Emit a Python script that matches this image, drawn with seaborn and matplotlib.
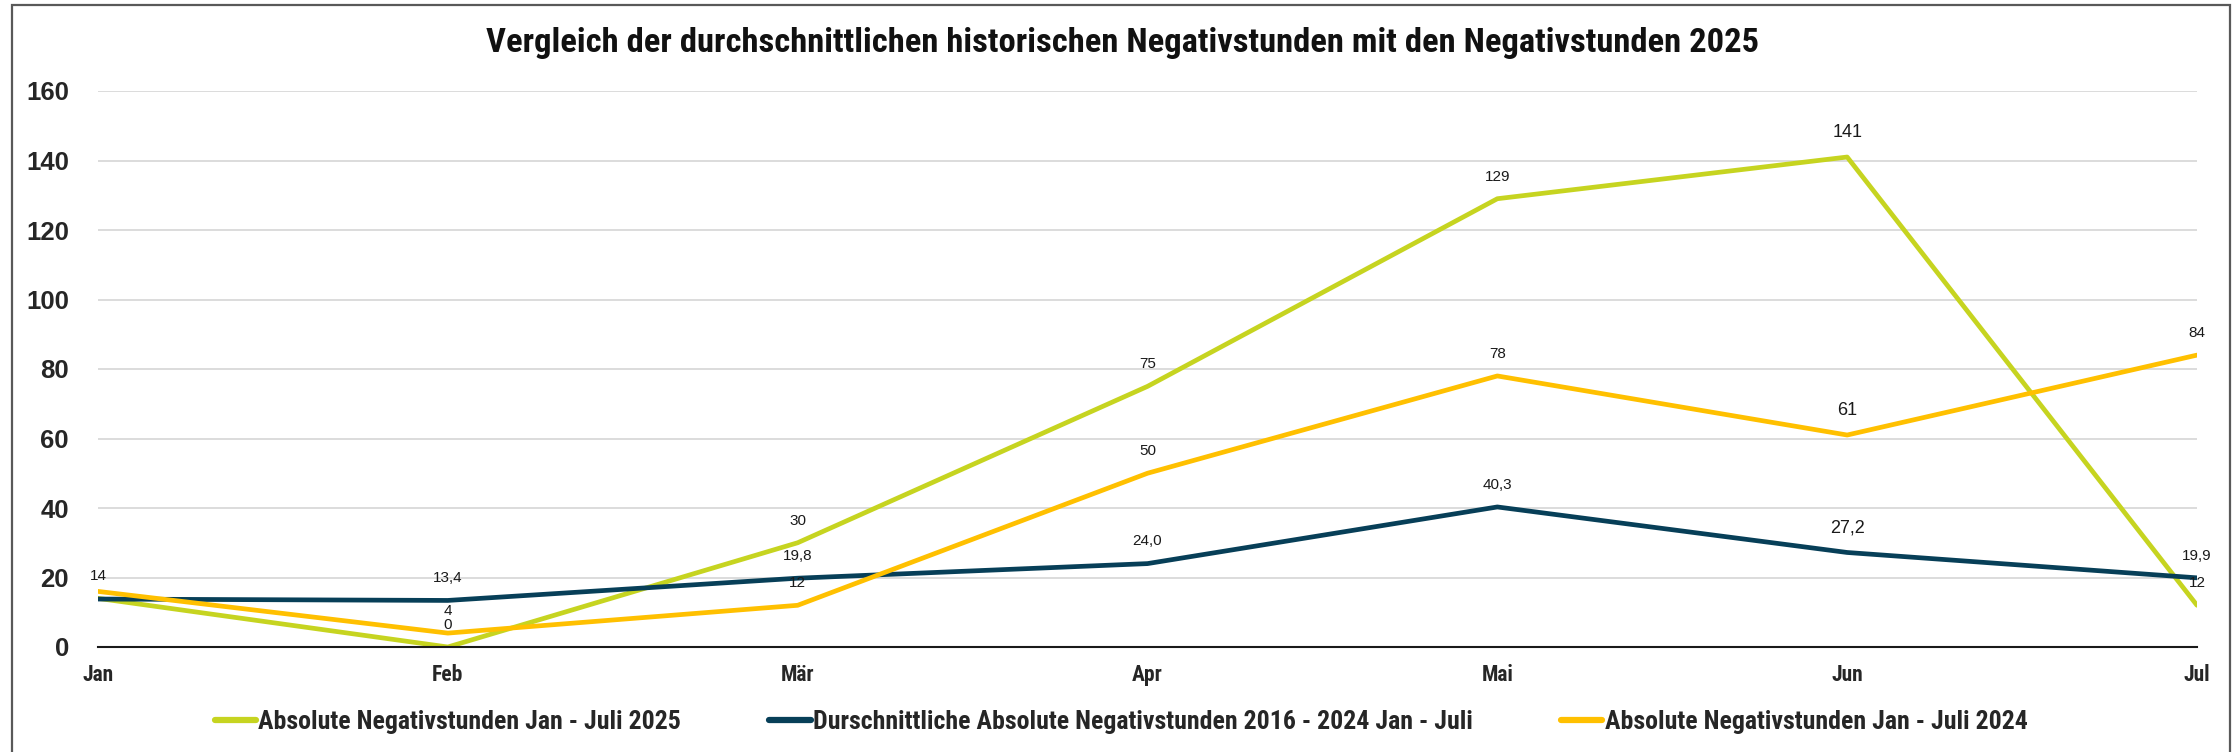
import matplotlib
matplotlib.use("Agg")
import matplotlib.pyplot as plt
import seaborn as sns
import pandas as pd
from matplotlib import font_manager
from matplotlib.patches import Rectangle
from matplotlib.lines import Line2D

# --- data -------------------------------------------------------------
months = ["Jan", "Feb", "Mär", "Apr", "Mai", "Jun", "Jul"]
series_names = [
    "Absolute Negativstunden Jan - Juli 2025",
    "Durschnittliche Absolute Negativstunden 2016 - 2024 Jan - Juli",
    "Absolute Negativstunden Jan - Juli 2024",
]
values_2025 = [14, 0, 30, 75, 129, 141, 12]
values_avg = [13.8, 13.4, 19.8, 24.0, 40.3, 27.2, 19.9]
values_2024 = [16, 4, 12, 50, 78, 61, 84]
y_ticks = [0, 20, 40, 60, 80, 100, 120, 140, 160]
title = "Vergleich der durchschnittlichen historischen Negativstunden mit den Negativstunden 2025"

# which points carry a value label, and how many decimals they show
show_2025 = [True] * 7
show_avg = [False, True, True, True, True, True, True]
show_2024 = [False, True, True, True, True, True, True]
decimals = [0, 1, 0]

# --- fonts ------------------------------------------------------------
installed = {f.name for f in font_manager.fontManager.ttflist}
def pick(*cands):
    for c in cands:
        if c in installed:
            return c
    return "DejaVu Sans"

narrow = pick("Liberation Sans Narrow", "Roboto Condensed", "DejaVu Sans Condensed", "Liberation Sans")
regular = pick("Liberation Sans", "Arimo", "DejaVu Sans")

sns.set_theme(style="white")
plt.rcParams["font.family"] = [regular, "DejaVu Sans"]

colors = ["#C6D420", "#073F58", "#FFC000"]

rows = []
for name, vals in zip(series_names, [values_2025, values_avg, values_2024]):
    for i, v in enumerate(vals):
        rows.append({"pos": i, "value": v, "series": name})
df = pd.DataFrame(rows)

W, H, DPI = 2239, 752, 100
fig = plt.figure(figsize=(W / DPI, H / DPI), dpi=DPI)
ax = fig.add_axes([98 / W, 1 - 647 / H, (2197 - 98) / W, (647 - 91) / H])

sns.lineplot(
    data=df, x="pos", y="value", hue="series", hue_order=series_names,
    palette=colors, linewidth=3.4, sort=False, legend=False, ax=ax,
    solid_capstyle="round", solid_joinstyle="round",
)

ax.set_xlim(0, len(months) - 1)
ax.set_ylim(0, 160)
ax.set_yticks(y_ticks)
ax.set_yticklabels([str(t) for t in y_ticks], fontsize=18.5, fontweight="bold",
                   family=[regular])
ax.set_xticks(range(len(months)))
ax.set_xticklabels(months, fontsize=15.5, fontweight="bold", family=[narrow])
ax.tick_params(axis="y", length=0, pad=21)
ax.tick_params(axis="x", length=0, pad=12)
ax.set_xlabel("")
ax.set_ylabel("")
ax.yaxis.grid(True, color="#D9D9D9", linewidth=1.3)
ax.xaxis.grid(False)
for s in ["left", "right", "top"]:
    ax.spines[s].set_visible(False)
ax.spines["bottom"].set_color("#1a1a1a")
ax.spines["bottom"].set_linewidth(1.5)
ax.spines["bottom"].set_zorder(5)

# value labels above each point
def fmt(v, d):
    return f"{v:.{d}f}".replace(".", ",")

for vals, shows, d in zip([values_2025, values_avg, values_2024],
                          [show_2025, show_avg, show_2024], decimals):
    for i, (v, s) in enumerate(zip(vals, shows)):
        if not s:
            continue
        big = months[i] == "Jun"
        ax.annotate(fmt(v, d), (i, v), xytext=(0, 17.5 if big else 16),
                    textcoords="offset points", ha="center", va="center",
                    fontsize=13 if big else 11, color="#1a1a1a",
                    family=[regular], annotation_clip=False, zorder=6)

fig.text(0.5015, 1 - 43 / H, title, ha="center", va="center",
         fontsize=24.8, fontweight="bold", family=[narrow], color="#111111")

handles = [Line2D([0], [0], color=c, lw=4.5, solid_capstyle="round") for c in colors]
fig.legend(handles, series_names, loc="center", bbox_to_anchor=(0.5007, 1 - 722 / H),
           ncol=3, frameon=False, handlelength=1.6, handletextpad=0.1,
           columnspacing=3.4,
           prop={"family": narrow, "weight": "bold", "size": 18.6})

# chart frame
fig.patches.append(Rectangle((12 / W, -0.05), (2230 - 12) / W, 1.05 - 5 / H,
                             transform=fig.transFigure, fill=False,
                             edgecolor="#595959", linewidth=1.6))

fig.savefig("out.png", dpi=DPI, facecolor="white")
